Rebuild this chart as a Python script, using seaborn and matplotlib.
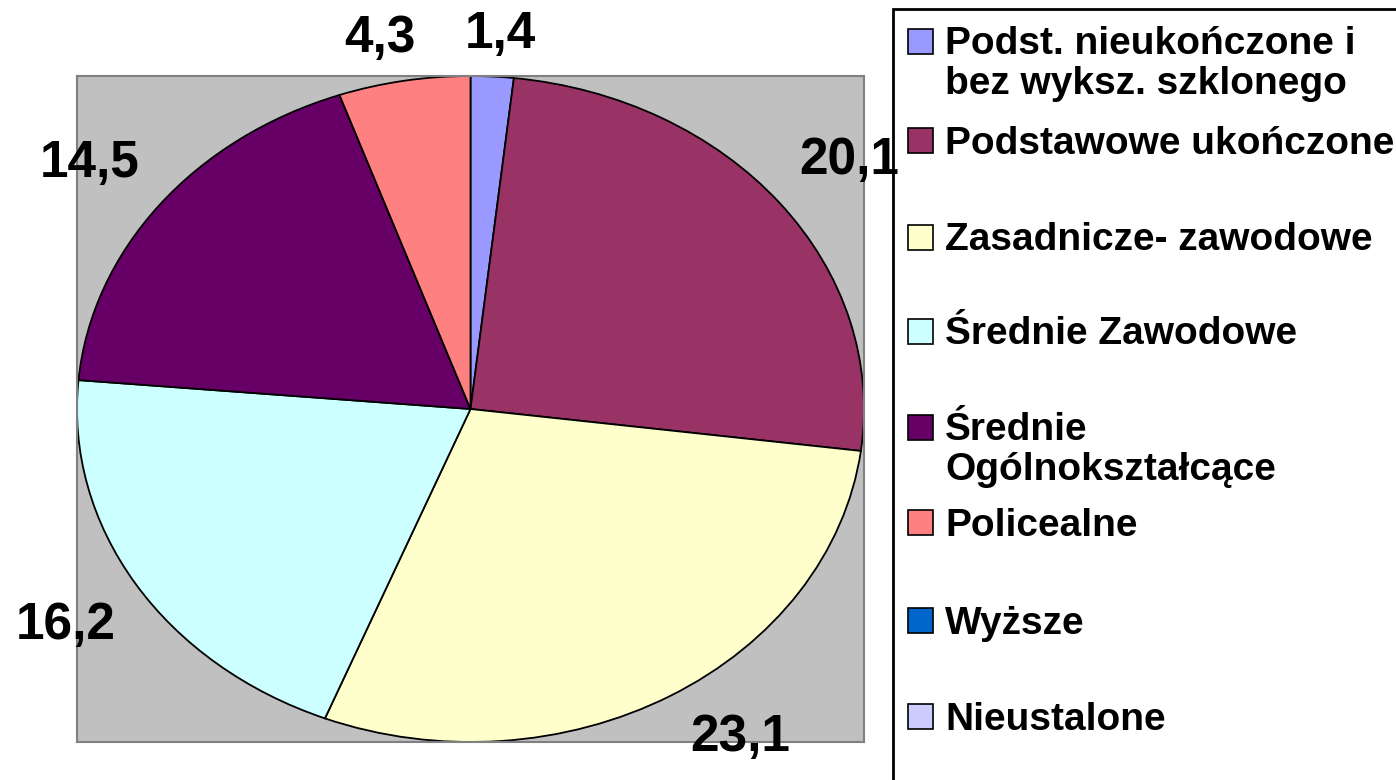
import matplotlib.pyplot as plt
import matplotlib.patches as mpatches
import numpy as np
import seaborn as sns

# data
categories = [
    "Podst. nieukończone i\nbez wyksz. szklonego",
    "Podstawowe ukończone",
    "Zasadnicze- zawodowe",
    "Średnie Zawodowe",
    "Średnie\nOgólnokształcące",
    "Policealne",
    "Wyższe",
    "Nieustalone",
]
values = [1.4, 20.1, 23.1, 16.2, 14.5, 4.3, 0.0, 0.0]
colors = ["#9999FF", "#993366", "#FFFFCC", "#CCFFFF",
          "#660066", "#FF8080", "#0066CC", "#CCCCFF"]

sns.set_theme(style="white")
plt.rcParams["font.family"] = ["Liberation Sans", "DejaVu Sans"]
plt.rcParams["font.weight"] = "bold"

W, H = 1396, 780
fig = plt.figure(figsize=(W / 100, H / 100), dpi=100)
fig.patch.set_facecolor("white")


def px(x, y):
    """pixel (from top-left) -> figure fraction"""
    return x / W, 1 - y / H


# plot area (gray rectangle)
left, top, right, bottom = 77, 76, 864, 742
ax = fig.add_axes([left / W, 1 - bottom / H, (right - left) / W, (bottom - top) / H])
ax.set_facecolor("#C0C0C0")
for s in ax.spines.values():
    s.set_color("#808080")
    s.set_linewidth(1.5)
    s.set_visible(True)

nz = [i for i, v in enumerate(values) if v > 0]
wedges, _ = ax.pie(
    [values[i] for i in nz],
    colors=[colors[i] for i in nz],
    startangle=90,
    counterclock=False,
    radius=1.0,
    wedgeprops=dict(edgecolor="black", linewidth=1.3),
    frame=True,
)
ax.set_aspect("auto")
ax.set_xlim(-1, 1)
ax.set_ylim(-1, 1)
ax.set_xticks([])
ax.set_yticks([])

# value labels: outside end, box pushed away from the rim (Excel-like)
for w, i in zip(wedges, nz):
    mid = np.deg2rad((w.theta1 + w.theta2) / 2)
    c, s = np.cos(mid), np.sin(mid)
    dx = 70 * np.clip(c / 0.5, -1, 1)
    dy = 42 * np.clip(s / 0.5, -1, 1)
    ax.annotate(f"{values[i]:.1f}".replace(".", ","), xy=(c, s),
                xytext=(dx, dy), textcoords="offset pixels",
                ha="center", va="center", fontsize=37, fontweight="bold",
                color="black", annotation_clip=False)

# legend box
box = mpatches.Rectangle(px(893, 800), (1420 - 893) / W, (800 - 9) / H,
                         transform=fig.transFigure, facecolor="white",
                         edgecolor="black", linewidth=2, zorder=0)
fig.add_artist(box)

entry_y = [41, 140, 237, 331, 427, 522, 620, 716]
line_gap = 39
for lab, col, y in zip(categories, colors, entry_y):
    fig.add_artist(mpatches.Rectangle(px(908, y + 12.5), 25 / W, 25 / H,
                                      transform=fig.transFigure, facecolor=col,
                                      edgecolor="black", linewidth=1.2))
    for k, line in enumerate(lab.split("\n")):
        fig.text(*px(945, y + 13.5 + k * line_gap), line, ha="left", va="baseline",
                 fontsize=28, fontweight="bold", color="black")

fig.savefig("out.png", dpi=100)
